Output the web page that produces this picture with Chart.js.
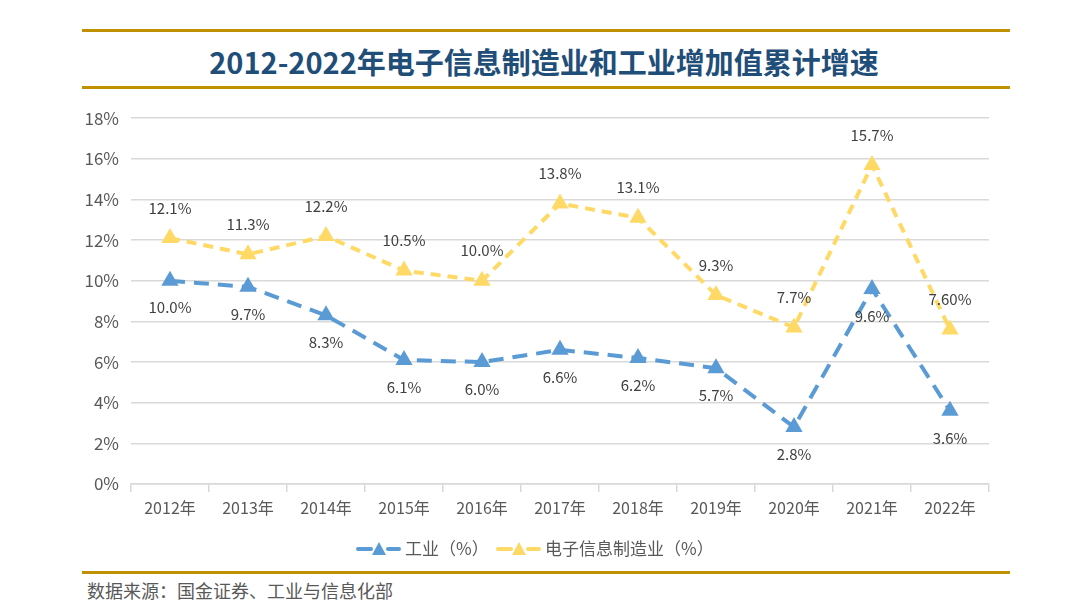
<!DOCTYPE html>
<html>
<head>
<meta charset="utf-8">
<script src="https://cdn.jsdelivr.net/npm/chart.js@4.4.0/dist/chart.umd.min.js"></script>
<style>
  body { margin: 0; background: #fff; font-family: "Noto Sans CJK SC", "Noto Sans", sans-serif; }
  #page { position: relative; width: 1088px; height: 605px; overflow: hidden; }
  .gold { position: absolute; left: 82px; width: 928px; height: 3px; background: #bf9000; }
  #title { position: absolute; left: 0; width: 1088px; top: 40px; text-align: center;
    font-size: 29px; font-weight: bold; color: #1f4e79; line-height: 42px; }
  #source { position: absolute; left: 87px; top: 578px; font-size: 18px; color: #595959; line-height: 24px; }
  #wrap { position: absolute; left: 0; top: 96px; width: 1088px; height: 474px; }
</style>
</head>
<body>
<div id="page">
  <div class="gold" style="top:29px"></div>
  <div id="title">2012-2022年电子信息制造业和工业增加值累计增速</div>
  <div class="gold" style="top:86px"></div>
  <div id="wrap"><canvas id="growthChart"></canvas></div>
  <div class="gold" style="top:571px"></div>
  <div id="source">数据来源：国金证券、工业与信息化部</div>
</div>
<script>
// years on x axis
const years = ['2012年','2013年','2014年','2015年','2016年','2017年','2018年','2019年','2020年','2021年','2022年'];
// 工业 (%)
const industryVals = [10.0, 9.7, 8.3, 6.1, 6.0, 6.6, 6.2, 5.7, 2.8, 9.6, 3.6];
const industryLabels = ['10.0%','9.7%','8.3%','6.1%','6.0%','6.6%','6.2%','5.7%','2.8%','9.6%','3.6%'];
// 电子信息制造业 (%)
const electronicsVals = [12.1, 11.3, 12.2, 10.5, 10.0, 13.8, 13.1, 9.3, 7.7, 15.7, 7.6];
const electronicsLabels = ['12.1%','11.3%','12.2%','10.5%','10.0%','13.8%','13.1%','9.3%','7.7%','15.7%','7.60%'];
const yTicks = [0, 2, 4, 6, 8, 10, 12, 14, 16, 18];

const BLUE = '#5b9bd5';
const YELLOW = '#ffd966';
const FONT = '"Noto Sans CJK SC", "Noto Sans", sans-serif';

// draws the value text above / below each point
const valueLabels = {
  id: 'valueLabels',
  afterDatasetsDraw(chart) {
    const ctx = chart.ctx;
    ctx.save();
    ctx.font = '15px ' + FONT;
    ctx.fillStyle = '#404040';
    ctx.textAlign = 'center';
    ctx.textBaseline = 'middle';
    chart.data.datasets.forEach((ds, i) => {
      const meta = chart.getDatasetMeta(i);
      meta.data.forEach((pt, j) => {
        const off = ds.labelPos == 'below' ? 27 : -30;
        ctx.fillText(ds.valueText[j], pt.x, pt.y + off);
      });
    });
    ctx.restore();
  }
};

// legend: dashed line with triangle in the middle, then text
const dashLegend = {
  id: 'dashLegend',
  afterDraw(chart) {
    const ctx = chart.ctx;
    const y = 453;
    const items = [
      { x: 357, ds: chart.data.datasets[0] },
      { x: 497, ds: chart.data.datasets[1] }
    ];
    ctx.save();
    items.forEach(it => {
      ctx.strokeStyle = it.ds.borderColor;
      ctx.lineWidth = 4;
      ctx.lineCap = 'round';
      ctx.beginPath(); ctx.moveTo(it.x + 1, y); ctx.lineTo(it.x + 14, y); ctx.stroke();
      ctx.beginPath(); ctx.moveTo(it.x + 31, y); ctx.lineTo(it.x + 42, y); ctx.stroke();
      ctx.fillStyle = it.ds.borderColor;
      ctx.beginPath();
      ctx.moveTo(it.x + 22, y - 7);
      ctx.lineTo(it.x + 29, y + 6);
      ctx.lineTo(it.x + 15, y + 6);
      ctx.closePath(); ctx.fill();
      ctx.font = '17px ' + FONT;
      ctx.fillStyle = '#595959';
      ctx.textAlign = 'left';
      ctx.textBaseline = 'middle';
      ctx.fillText(it.ds.label, it.x + 48, y);
    });
    ctx.restore();
  }
};

new Chart(document.getElementById('growthChart'), {
  type: 'line',
  data: {
    labels: years,
    datasets: [
      {
        label: '工业（%）',
        data: industryVals,
        valueText: industryLabels,
        labelPos: 'below',
        borderColor: BLUE,
        backgroundColor: BLUE,
        borderWidth: 4,
        borderDash: [15, 9],
        pointStyle: 'triangle',
        pointRadius: 10,
        pointBorderWidth: 0,
        tension: 0
      },
      {
        label: '电子信息制造业（%）',
        data: electronicsVals,
        valueText: electronicsLabels,
        labelPos: 'above',
        borderColor: YELLOW,
        backgroundColor: YELLOW,
        borderWidth: 4,
        borderDash: [10, 7],
        pointStyle: 'triangle',
        pointRadius: 10,
        pointBorderWidth: 0,
        tension: 0
      }
    ]
  },
  options: {
    responsive: true,
    maintainAspectRatio: false,
    animation: false,
    layout: { padding: { top: 14, right: 99, left: 0, bottom: 0 } },
    plugins: {
      legend: { display: false },
      tooltip: { enabled: false }
    },
    scales: {
      x: {
        offset: true,
        grid: { offset: true, drawOnChartArea: false, drawTicks: true, tickLength: 8, color: '#d9d9d9', lineWidth: 1.5 },
        border: { color: '#d9d9d9', width: 1.5 },
        ticks: { color: '#595959', font: { family: FONT, size: 16 }, padding: 6, maxRotation: 0 },
        afterFit: s => { s.height = 86; }
      },
      y: {
        min: 0,
        max: 18,
        afterBuildTicks: s => { s.ticks = yTicks.map(v => ({ value: v })); },
        grid: { color: '#d9d9d9', lineWidth: 1.5, drawTicks: false },
        border: { display: false },
        ticks: { color: '#595959', font: { family: FONT, size: 17 }, padding: 12, callback: v => v + '%' },
        afterFit: s => { s.width = 131; }
      }
    }
  },
  plugins: [valueLabels, dashLegend]
});
</script>
</body>
</html>
